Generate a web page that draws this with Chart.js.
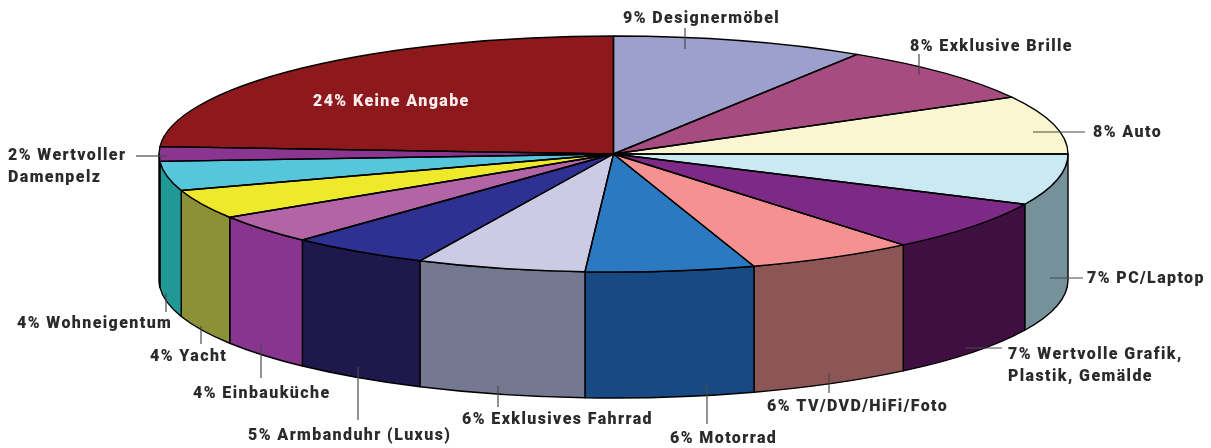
<!DOCTYPE html>
<html lang="de">
<head>
<meta charset="utf-8">
<title>Luxusgüter</title>
<script src="https://cdn.jsdelivr.net/npm/chart.js@4/dist/chart.umd.min.js"></script>
<style>
  html, body { margin: 0; padding: 0; background: #fff; }
  canvas { display: block; }
</style>
</head>
<body>
<canvas id="pie3d" width="1211" height="448"></canvas>
<script>
// data, clockwise from 12 o'clock
const categories = ["Designermöbel", "Exklusive Brille", "Auto", "PC/Laptop", "Wertvolle Grafik, Plastik, Gemälde",
  "TV/DVD/HiFi/Foto", "Motorrad", "Exklusives Fahrrad", "Armbanduhr (Luxus)", "Einbauküche", "Yacht",
  "Wohneigentum", "Wertvoller Damenpelz", "Keine Angabe"];
const percents = [9, 8, 8, 7, 7, 6, 6, 6, 5, 4, 4, 4, 2, 24];
const topColors = ["#9d9fcd", "#a64c80", "#faf6d0", "#cbe9f2", "#7c2a85", "#f69191", "#2b79c0", "#cbcbe6",
  "#2e3191", "#b264a4", "#eee92b", "#55c6db", "#8a3590", "#8e191c"];
const sideColors = ["#9d9fcd", "#a64c80", "#faf6d0", "#75919a", "#3e0f40", "#8c5656", "#174a82", "#747890",
  "#1f184d", "#88358f", "#8c9138", "#209996", "#8a3590", "#8e191c"];

// text lines per label, with x + baseline
const labelLines = [
  ["9% Designermöbel"], ["8% Exklusive Brille"], ["8% Auto"], ["7% PC/Laptop"],
  ["7% Wertvolle Grafik,", "Plastik, Gemälde"], ["6% TV/DVD/HiFi/Foto"], ["6% Motorrad"],
  ["6% Exklusives Fahrrad"], ["5% Armbanduhr (Luxus)"], ["4% Einbauküche"], ["4% Yacht"],
  ["4% Wohneigentum"], ["2% Wertvoller", "Damenpelz"], ["24% Keine Angabe"]
];
const labelPos = [[623, 23], [910, 51], [1093, 137], [1087, 283], [1008, 359], [767, 411], [670, 443],
  [462, 424], [248, 440], [193, 398], [150, 361], [17, 328], [8, 160], [313, 106]];
const lineGap = 22;

// leader lines x1,y1,x2,y2 (Keine Angabe has none)
const leaders = [[685, 28, 685, 49], [919, 54, 919, 75], [1033, 132, 1085, 132], [1050, 278, 1083, 278],
  [965, 348, 1002, 348], [829, 373, 829, 393], [707, 384, 707, 424], [498, 386, 498, 407],
  [358, 367, 358, 420], [261, 343, 261, 378], [201, 326, 201, 344], [166, 293, 166, 312], [136, 156, 167, 156]];

const stretchX = 454.5 / 118;   // pie is drawn as circle, then pulled wide into the ellipse
const depth = 126;              // wall height
const textSqueeze = 0.94;       // no condensed bold installed, so squeeze Roboto

// walls under the pie
function drawWalls(chart) {
  const ctx = chart.ctx;
  chart.getDatasetMeta(0).data.forEach((arc, i) => {
    const a0 = Math.max(arc.startAngle, 0);
    const a1 = Math.min(arc.endAngle, Math.PI);
    if (a1 <= a0) return;
    const rx = arc.outerRadius * stretchX;
    const ry = arc.outerRadius;
    ctx.beginPath();
    ctx.ellipse(arc.x, arc.y, rx, ry, 0, a0, a1);
    ctx.ellipse(arc.x, arc.y + depth, rx, ry, 0, a1, a0, true);
    ctx.closePath();
    ctx.fillStyle = sideColors[i];
    ctx.fill();
    ctx.strokeStyle = "#000";
    ctx.lineWidth = 1.4;
    ctx.lineJoin = "round";
    ctx.stroke();
  });
}

// slice outlines, separately so the stretch does not fatten the strokes
function drawOutlines(chart) {
  const ctx = chart.ctx;
  chart.getDatasetMeta(0).data.forEach(arc => {
    ctx.beginPath();
    ctx.moveTo(arc.x, arc.y);
    ctx.ellipse(arc.x, arc.y, arc.outerRadius * stretchX, arc.outerRadius, 0, arc.startAngle, arc.endAngle);
    ctx.closePath();
    ctx.strokeStyle = "#000";
    ctx.lineWidth = 1.4;
    ctx.lineJoin = "round";
    ctx.stroke();
  });
}

function drawLabels(chart) {
  const ctx = chart.ctx;
  ctx.save();
  ctx.strokeStyle = "#4a4a4a";
  ctx.lineWidth = 1.2;
  leaders.forEach(l => {
    ctx.beginPath();
    ctx.moveTo(l[0], l[1]);
    ctx.lineTo(l[2], l[3]);
    ctx.stroke();
  });
  ctx.font = "900 17px Roboto";
  ctx.letterSpacing = "1.5px";
  ctx.textBaseline = "alphabetic";
  labelLines.forEach((lines, i) => {
    ctx.fillStyle = i === labelLines.length - 1 ? "#fbeeee" : "#2b2a2b";
    lines.forEach((t, n) => {
      ctx.save();
      ctx.translate(labelPos[i][0], labelPos[i][1] + n * lineGap);
      ctx.scale(textSqueeze, 1);
      ctx.fillText(t, 0, 0);
      ctx.restore();
    });
  });
  ctx.restore();
}

const pie3d = {
  id: "pie3d",
  beforeDatasetsDraw(chart) {
    const ctx = chart.ctx;
    const cx = chart.getDatasetMeta(0).data[0].x;
    drawWalls(chart);
    ctx.save();
    ctx.translate(cx, 0);
    ctx.scale(stretchX, 1);
    ctx.translate(-cx, 0);
  },
  afterDatasetsDraw(chart) {
    chart.ctx.restore();
    drawOutlines(chart);
    drawLabels(chart);
  }
};

new Chart(document.getElementById("pie3d"), {
  type: "pie",
  data: {
    labels: categories,
    datasets: [{ data: percents, backgroundColor: topColors, borderWidth: 0, clip: false }]
  },
  options: {
    responsive: false,
    animation: false,
    events: [],
    layout: { padding: { left: 495.5, right: 479.5, top: 36, bottom: 176 } },
    plugins: { legend: { display: false }, tooltip: { enabled: false } }
  },
  plugins: [pie3d]
});
</script>
</body>
</html>
